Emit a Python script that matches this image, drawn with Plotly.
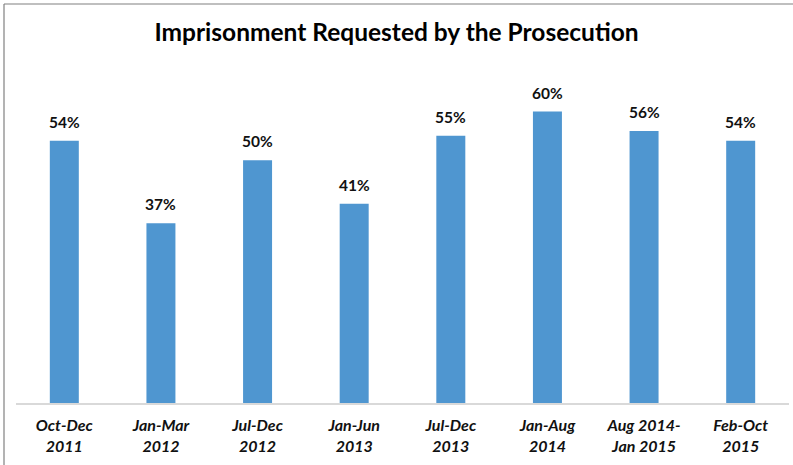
import plotly.graph_objects as go

categories = ["Oct-Dec<br>2011", "Jan-Mar<br>2012", "Jul-Dec<br>2012", "Jan-Jun<br>2013",
              "Jul-Dec<br>2013", "Jan-Aug<br>2014", "Aug 2014-<br>Jan 2015", "Feb-Oct<br>2015"]
values = [0.54, 0.37, 0.50, 0.41, 0.55, 0.60, 0.56, 0.54]
labels = ["54%", "37%", "50%", "41%", "55%", "60%", "56%", "54%"]
title = "Imprisonment Requested by the Prosecution"

W, H = 793, 465
L, R, T, B = 16, 4, 63, 62
pw, ph = W - L - R, H - T - B

fig = go.Figure(go.Bar(
    x=categories, y=values, width=0.30,
    marker=dict(color="#4F96D0", line=dict(width=0)),
    hoverinfo="skip",
))

for c, v, t in zip(categories, values, labels):
    fig.add_annotation(x=c, y=v, text="<b>" + t + "</b>", showarrow=False,
                       yanchor="bottom", yshift=8,
                       font=dict(family="Lato", size=15.5, color="#111111"))

fig.update_layout(
    width=W, height=H,
    margin=dict(l=L, r=R, t=T, b=B),
    paper_bgcolor="white", plot_bgcolor="white",
    showlegend=False,
    title=dict(text="<b>" + title + "</b>", x=0.5, xanchor="center", y=1 - 32 / H, yanchor="middle",
               font=dict(family="Lato", size=24.5, color="#000000")),
    bargap=0.7,
    xaxis=dict(showgrid=False, showline=True, linecolor="#D9D9D9", linewidth=1.5,
               ticks="", ticklabelstandoff=7,
               tickfont=dict(family="Lato", size=16, color="#111111", weight="bold", style="italic")),
    yaxis=dict(range=[0, 0.70], visible=False, showgrid=False, zeroline=False),
)

# chart frame (top and left edges visible)
fx0 = (4 - L) / pw
fy1 = 1 + (T - 4) / ph
fig.add_shape(type="line", xref="paper", yref="paper", x0=fx0, x1=(W + 50) / pw, y0=fy1, y1=fy1,
              line=dict(color="#808080", width=1.2), layer="below")
fig.add_shape(type="line", xref="paper", yref="paper", x0=fx0, x1=fx0, y0=fy1, y1=-(B + 50) / ph,
              line=dict(color="#808080", width=1.2), layer="below")

fig.write_html("out.html", config={"displayModeBar": False},
               post_script="document.body.style.margin='0';document.body.style.overflow='hidden';")
